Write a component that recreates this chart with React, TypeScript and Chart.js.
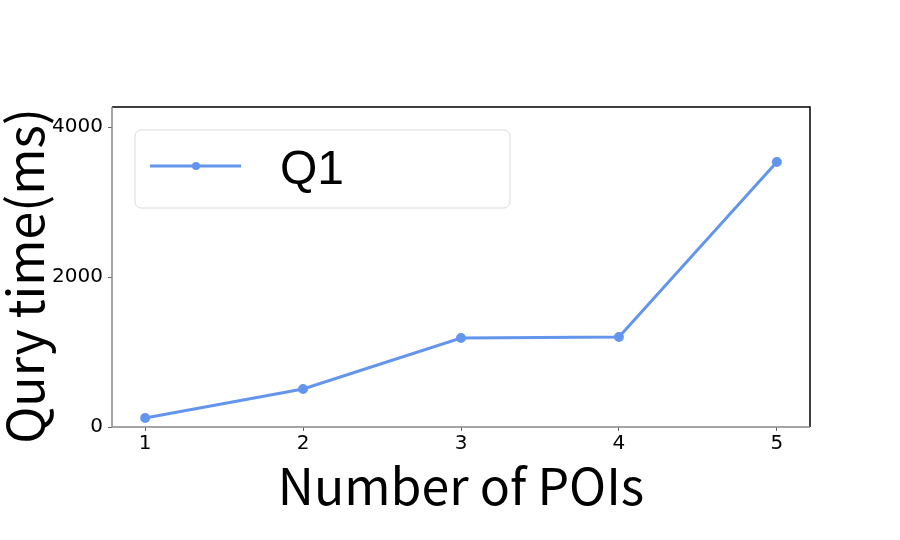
import React, { useEffect, useRef } from "react";
import { Chart, registerables } from "chart.js";

Chart.register(...registerables);

const xValues = [1, 2, 3, 4, 5];
const yValues = [120, 507, 1187, 1200, 3533];
const xTicks = [1, 2, 3, 4, 5];
const yTicks = [0, 2000, 4000];
const seriesLabel = "Q1";
const xTitle = "Number of POIs";
const yTitle = "Qury time(ms)";

const LINE_COLOR = "#6495ED";
const TITLE_FONT = "'Noto Sans CJK SC', 'Noto Sans', sans-serif";
const TICK_FONT = "'DejaVu Sans', sans-serif";
const LEGEND_FONT = "'Liberation Sans', Arial, sans-serif";

const framePlugin = {
  id: "frame",
  afterDraw(chart: any) {
    const { ctx, chartArea: a } = chart;
    ctx.save();
    ctx.lineWidth = 1.5;
    ctx.strokeStyle = "#000";
    ctx.beginPath();
    ctx.moveTo(a.left, a.top);
    ctx.lineTo(a.right, a.top);
    ctx.lineTo(a.right, a.bottom);
    ctx.stroke();
    ctx.strokeStyle = "#888";
    ctx.beginPath();
    ctx.moveTo(a.left, a.top);
    ctx.lineTo(a.left, a.bottom);
    ctx.lineTo(a.right, a.bottom);
    ctx.stroke();
    // y axis title
    ctx.save();
    ctx.translate(25, (a.top + a.bottom) / 2 + 9);
    ctx.rotate(-Math.PI / 2);
    ctx.fillStyle = "#000";
    ctx.font = `50px ${TITLE_FONT}`;
    ctx.textAlign = "center";
    ctx.textBaseline = "middle";
    ctx.fillText(yTitle, 0, 0);
    ctx.restore();
    // legend box
    const lx = a.left + 23, ly = a.top + 23, lw = 375, lh = 78, r = 6;
    ctx.fillStyle = "rgba(255,255,255,0.8)";
    ctx.strokeStyle = "#dcdcdc";
    ctx.lineWidth = 1;
    ctx.beginPath();
    ctx.moveTo(lx + r, ly);
    ctx.arcTo(lx + lw, ly, lx + lw, ly + lh, r);
    ctx.arcTo(lx + lw, ly + lh, lx, ly + lh, r);
    ctx.arcTo(lx, ly + lh, lx, ly, r);
    ctx.arcTo(lx, ly, lx + lw, ly, r);
    ctx.closePath();
    ctx.fill();
    ctx.stroke();
    const cy = ly + 36;
    const ds = chart.data.datasets[0];
    ctx.strokeStyle = ds.borderColor;
    ctx.lineWidth = 3;
    ctx.beginPath();
    ctx.moveTo(lx + 15, cy);
    ctx.lineTo(lx + 106, cy);
    ctx.stroke();
    ctx.fillStyle = ds.borderColor;
    ctx.beginPath();
    ctx.arc(lx + 61, cy, 4, 0, Math.PI * 2);
    ctx.fill();
    ctx.fillStyle = "#000";
    ctx.font = `48px ${LEGEND_FONT}`;
    ctx.textBaseline = "alphabetic";
    ctx.textAlign = "left";
    ctx.fillText(ds.label, lx + 145, 184);
    ctx.restore();
  },
};

export default function App() {
  const ref = useRef<HTMLCanvasElement | null>(null);
  useEffect(() => {
    if (!ref.current) return;
    const chart = new Chart(ref.current, {
      type: "line",
      data: {
        datasets: [
          {
            label: seriesLabel,
            data: xValues.map((x, i) => ({ x, y: yValues[i] })),
            borderColor: LINE_COLOR,
            backgroundColor: LINE_COLOR,
            borderWidth: 3,
            pointRadius: 3.5,
            pointHoverRadius: 3.5,
            tension: 0,
          },
        ],
      },
      options: {
        responsive: false,
        animation: false,
        layout: { padding: { top: 107, right: 90, left: 0, bottom: 0 } },
        plugins: { legend: { display: false }, tooltip: { enabled: false } },
        scales: {
          x: {
            type: "linear",
            min: 0.79,
            max: 5.21,
            afterBuildTicks: (s: any) => {
              s.ticks = xTicks.map((v) => ({ value: v }));
            },
            afterFit: (s: any) => {
              s.height = 113;
            },
            grid: { drawOnChartArea: false, drawTicks: true, tickLength: 4, color: "#666" },
            border: { display: false },
            ticks: {
              color: "#000",
              font: { family: TICK_FONT, size: 20 },
              padding: 1,
              maxRotation: 0,
              callback: (v: any) => String(v),
            },
            title: {
              display: true,
              text: xTitle,
              color: "#000",
              font: { family: TITLE_FONT, size: 50, lineHeight: 1 },
              padding: { top: 0, bottom: 29 },
            },
          },
          y: {
            min: 0,
            max: 4267,
            afterBuildTicks: (s: any) => {
              s.ticks = yTicks.map((v) => ({ value: v }));
            },
            afterFit: (s: any) => {
              s.width = 112;
            },
            grid: { drawOnChartArea: false, drawTicks: true, tickLength: 4, color: "#666" },
            border: { display: false },
            ticks: {
              color: "#000",
              font: { family: TICK_FONT, size: 20 },
              padding: 5,
              callback: (v: any) => String(v),
            },
            title: { display: false },
          },
        },
      },
      plugins: [framePlugin],
    });
    return () => chart.destroy();
  }, []);
  return (
    <div style={{ position: "absolute", left: 0, top: 0, width: 900, height: 540, background: "#fff" }}>
      <canvas ref={ref} width={900} height={540} />
    </div>
  );
}
